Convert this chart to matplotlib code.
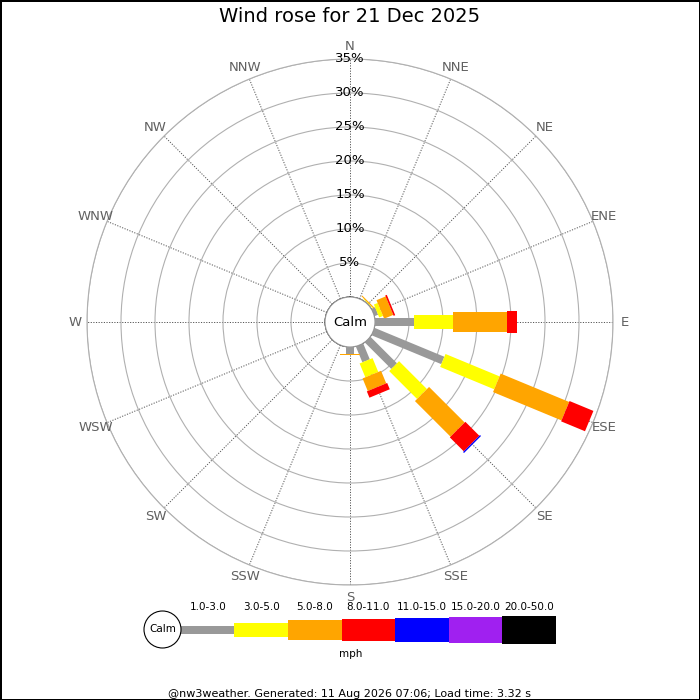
import matplotlib
matplotlib.use('Agg')
import matplotlib.pyplot as plt
import numpy as np
from matplotlib.patches import Circle

# compass directions, clockwise from north
directions = ['N', 'NNE', 'NE', 'ENE', 'E', 'ESE', 'SE', 'SSE',
              'S', 'SSW', 'SW', 'WSW', 'W', 'WNW', 'NW', 'NNW']
speed_bins = ['1.0-3.0', '3.0-5.0', '5.0-8.0', '8.0-11.0',
              '11.0-15.0', '15.0-20.0', '20.0-50.0']

# % of time per direction, one list per speed bin (mph)
freq_1_3 = [0, 0, 0.1, 0.55, 5.8, 11.1, 5.5, 2.5, 1.0, 0, 0, 0, 0, 0, 0, 0]
freq_3_5 = [0, 0, 0.1, 0.6, 5.65, 8.6, 5.8, 2.2, 0, 0, 0, 0, 0, 0, 0, 0]
freq_5_8 = [0, 0, 0.15, 1.45, 8.0, 10.9, 7.4, 2.0, 0.15, 0, 0, 0, 0, 0, 0, 0]
freq_8_11 = [0, 0, 0, 0.25, 1.4, 3.8, 2.9, 1.0, 0, 0, 0, 0, 0, 0, 0, 0]
freq_11_15 = [0, 0, 0, 0, 0, 0, 0.2, 0, 0, 0, 0, 0, 0, 0, 0, 0]
freq_15_20 = [0] * 16
freq_20_50 = [0] * 16
radial_ticks = [5, 10, 15, 20, 25, 30, 35]

freqs = [freq_1_3, freq_3_5, freq_5_8, freq_8_11, freq_11_15, freq_15_20, freq_20_50]
bin_colors = ['#999999', '#ffff00', '#ffa500', '#ff0000', '#0000ff', '#a020f0', '#000000']
bar_px = [8, 14, 20, 22, 24, 26, 28]  # bar thickness in pixels

fig = plt.figure(figsize=(7, 7), dpi=100, facecolor='white',
                 edgecolor='black', linewidth=2)

ax = fig.add_axes([87 / 700, 115 / 700, 526 / 700, 526 / 700], projection='polar')
ax.set_theta_zero_location('N')
ax.set_theta_direction(-1)
ax.set_ylim(0, 35)
ax.set_rorigin(-25 / 238 * 35)
angles = np.arange(16) * 22.5
ax.set_thetagrids(angles, labels=[''] * 16)
ax.set_rgrids(radial_ticks, labels=[''] * len(radial_ticks))
ax.grid(axis='y', color='#b0b0b0', lw=0.8, ls='-')
ax.grid(axis='x', color='#555555', lw=0.7, ls=(0, (1.2, 1.5)))
ax.spines['polar'].set_color('#b0b0b0')
ax.spines['polar'].set_linewidth(0.8)
if 'inner' in ax.spines:
    ax.spines['inner'].set_visible(False)

# stacked bars
thetas = np.deg2rad(angles)
for i, th in enumerate(thetas):
    r0 = 0
    for k in range(len(freqs)):
        v = freqs[k][i]
        if v > 0:
            ax.plot([th, th], [r0, r0 + v], color=bin_colors[k],
                    lw=bar_px[k] * 0.72, solid_capstyle='butt', zorder=3)
            r0 += v

# calm circle
ax.add_patch(Circle((0.5, 0.5), 25 / 526, transform=ax.transAxes, facecolor='white',
                    edgecolor='#999999', lw=0.8, zorder=5, clip_on=False))
ax.text(0.5, 0.5, 'Calm', transform=ax.transAxes, ha='center', va='center',
        fontsize=9.5, zorder=6)

for r in radial_ticks:
    ax.text(0, r, f'{r}%', ha='center', va='center', fontsize=9.5, zorder=6)
for th, d in zip(thetas, directions):
    ax.text(th, 36.8, d, ha='center', va='center', fontsize=9.5,
            color='#606060', clip_on=False)

fig.text(0.5, 1 - 17 / 700, 'Wind rose for 21 Dec 2025', ha='center', va='center',
         fontsize=14)

# legend
lax = fig.add_axes([140 / 700, 35 / 700, 420 / 700, 70 / 700])
lax.set_xlim(140, 560)
lax.set_ylim(665, 595)
lax.axis('off')
seg = 53.5
lefts = 181 + seg * np.arange(len(speed_bins))
lax.barh([629.5] * len(speed_bins), [seg] * len(speed_bins), left=lefts,
         height=bar_px, color=bin_colors)
for x, lab in zip(lefts, speed_bins):
    lax.text(x + seg / 2, 607.5, lab, ha='center', va='center', fontsize=7.5)
lax.add_patch(Circle((162.5, 629.5), 18.5, facecolor='white', edgecolor='black', lw=0.8))
lax.text(162.5, 629.5, 'Calm', ha='center', va='center', fontsize=7.5)
lax.text(351, 654, 'mph', ha='center', va='center', fontsize=7.5)

fig.text(0.5, 1 - 694 / 700,
         '@nw3weather. Generated: 11 Aug 2026 07:06; Load time: 3.32 s',
         ha='center', va='center', fontsize=8)

fig.savefig('out.png', dpi=100)
